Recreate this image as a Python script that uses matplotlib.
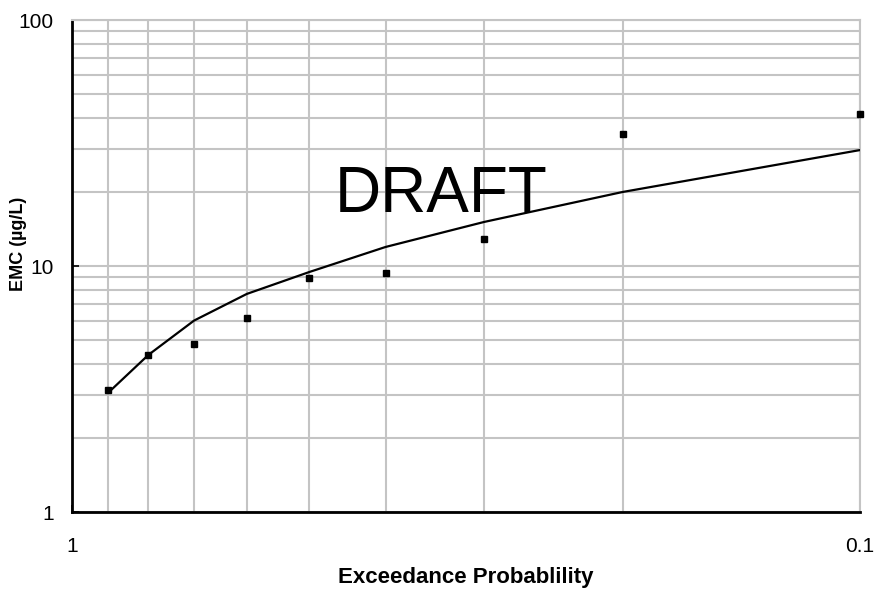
import numpy as np
import matplotlib
matplotlib.use('Agg')
import matplotlib.pyplot as plt
import matplotlib.ticker as mticker

plt.rcParams['font.family'] = ['Liberation Sans', 'DejaVu Sans']

# exceedance probability (x) and EMC values (ug/L)
prob = [0.9, 0.8, 0.7, 0.6, 0.5, 0.4, 0.3, 0.2, 0.1]
emc_obs = [3.13, 4.35, 4.82, 6.15, 8.95, 9.37, 12.9, 34.4, 41.5]
emc_fit = [3.05, 4.35, 6.0, 7.7, 9.45, 11.95, 15.1, 20.0, 29.6]

fig = plt.figure(figsize=(8.74, 5.94), dpi=100)
ax = fig.add_axes([72/874, 1-512/594, (860-72)/874, (512-20)/594])

ax.set_xscale('log')
ax.set_yscale('log')
ax.set_xlim(1, 0.1)
ax.set_ylim(1, 100)

ax.plot(prob, emc_fit, color='black', lw=1.6, zorder=3)
ax.plot(prob, emc_obs, 's', color='black', ms=5, zorder=4, ls='none', clip_on=False)

ax.xaxis.set_major_locator(mticker.FixedLocator([1, 0.1]))
ax.xaxis.set_major_formatter(mticker.FixedFormatter(['1', '0.1']))
ax.xaxis.set_minor_locator(mticker.LogLocator(base=10, subs=np.arange(2, 10)))
ax.xaxis.set_minor_formatter(mticker.NullFormatter())
ax.yaxis.set_major_locator(mticker.FixedLocator([1, 10, 100]))
ax.yaxis.set_major_formatter(mticker.FixedFormatter(['1', '10', '100']))
ax.yaxis.set_minor_locator(mticker.LogLocator(base=10, subs=np.arange(2, 10)))
ax.yaxis.set_minor_formatter(mticker.NullFormatter())

ax.grid(True, which='both', color='#c4c4c4', lw=1.5, zorder=0)
ax.set_axisbelow(True)

for s in ['top', 'right']:
    ax.spines[s].set_color('#c4c4c4')
    ax.spines[s].set_linewidth(1.5)
for s in ['left', 'bottom']:
    ax.spines[s].set_color('black')
    ax.spines[s].set_linewidth(2)

ax.tick_params(which='major', direction='in', length=5, width=1.2, labelsize=15)
ax.tick_params(axis='x', which='major', pad=18)
ax.tick_params(axis='y', which='major', pad=13)
ax.tick_params(which='minor', length=0)

fig.text(466/874, 1-577/594, 'Exceedance Probablility', fontsize=16,
         fontweight='bold', ha='center', va='center')
fig.text(19/874, 1-244/594, 'EMC (µg/L)', rotation=90, fontsize=13,
         fontweight='bold', ha='center', va='center')

ax.text(0.468, 0.645, 'DRAFT', transform=ax.transAxes, fontsize=46,
        ha='center', va='center', zorder=5)

fig.savefig('out.png', dpi=100)
